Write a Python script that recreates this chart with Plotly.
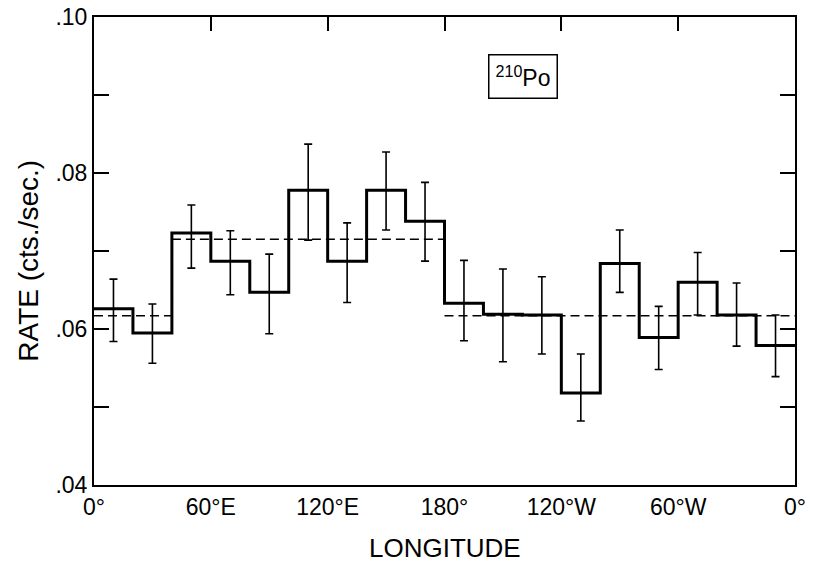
import plotly.graph_objects as go

# ---- data ----
bin_start = [0, 20, 40, 60, 80, 100, 120, 140, 160, 180, 200, 220, 240, 260, 280, 300, 320, 340]
bin_end = [20, 40, 60, 80, 100, 120, 140, 160, 180, 200, 220, 240, 260, 280, 300, 320, 340, 360]
rate = [0.0626, 0.0595, 0.0723, 0.0687, 0.0647, 0.0778, 0.0687, 0.0778, 0.0738,
        0.0633, 0.0619, 0.0618, 0.0518, 0.0684, 0.0589, 0.0660, 0.0618, 0.0579]
err_top = [0.0664, 0.0632, 0.0759, 0.0726, 0.0696, 0.0837, 0.0736, 0.0827, 0.0788,
           0.0688, 0.0677, 0.0667, 0.0568, 0.0727, 0.0629, 0.0698, 0.0659, 0.0618]
err_bottom = [0.0584, 0.0556, 0.0678, 0.0644, 0.0594, 0.0714, 0.0634, 0.0727, 0.0687,
              0.0585, 0.0558, 0.0568, 0.0482, 0.0647, 0.0548, 0.0618, 0.0578, 0.0539]

mean_start = [0, 40, 180]
mean_end = [40, 180, 360]
mean_value = [0.0617, 0.0715, 0.0617]

x_tick_vals = [0, 60, 120, 180, 240, 300, 360]
x_tick_text = ["0°", "60°E", "120°E", "180°", "120°W", "60°W", "0°"]
top_tick_vals = [60, 120, 180, 240, 300]
y_tick_vals = [0.04, 0.06, 0.08, 0.10]
y_tick_text = [".04", ".06", ".08", ".10"]
y_minor_vals = [0.05, 0.07, 0.09]

FONT = "Liberation Sans, Arial, sans-serif"

fig = go.Figure()

# step histogram
step_x = bin_start + [bin_end[-1]]
step_y = rate + [rate[-1]]
fig.add_trace(go.Scatter(x=step_x, y=step_y, mode="lines", line_shape="hv",
                         line=dict(color="black", width=3), hoverinfo="skip",
                         showlegend=False))

# error bars at bin centres
centres = [(a + b) / 2 for a, b in zip(bin_start, bin_end)]
fig.add_trace(go.Scatter(
    x=centres, y=rate, mode="markers", marker=dict(size=0.1, color="black", opacity=0),
    error_y=dict(type="data", symmetric=False,
                 array=[t - r for t, r in zip(err_top, rate)],
                 arrayminus=[r - b for r, b in zip(rate, err_bottom)],
                 color="black", thickness=1.6, width=4),
    showlegend=False, hoverinfo="skip"))

# dashed mean levels
for s, e, v in zip(mean_start, mean_end, mean_value):
    fig.add_trace(go.Scatter(x=[s, e], y=[v, v], mode="lines",
                             line=dict(color="black", width=1.5, dash="9px,5px"),
                             showlegend=False, hoverinfo="skip"))

# dummy trace for the top axis
fig.add_trace(go.Scatter(x=[0], y=[0.07], xaxis="x2", mode="markers",
                         marker=dict(opacity=0), showlegend=False, hoverinfo="skip"))

fig.add_annotation(x=220.5, y=0.0924, xref="x", yref="y",
                   text="<sup>210</sup>Po", showarrow=False,
                   font=dict(family=FONT, size=23, color="black"),
                   bordercolor="black", borderwidth=1.5, borderpad=6, bgcolor="white")

# axis titles as annotations for exact placement
fig.add_annotation(x=-0.093, y=0.479, xref="paper", yref="paper",
                   text="RATE (cts./sec.)", textangle=-90, showarrow=False,
                   font=dict(family=FONT, size=28, color="black"),
                   xanchor="center", yanchor="middle")
fig.add_annotation(x=0.5007, y=-0.135, xref="paper", yref="paper",
                   text="LONGITUDE", showarrow=False,
                   font=dict(family=FONT, size=26, color="black"),
                   xanchor="center", yanchor="middle")

# the page body adds an 8px offset, so the figure is sized to fit the window
fig.update_layout(
    width=809, height=557,
    margin=dict(l=86, r=22, t=9, b=80, autoexpand=False),
    paper_bgcolor="white", plot_bgcolor="white",
    font=dict(family=FONT, color="black"),
    xaxis=dict(range=[0, 360], tickvals=x_tick_vals, ticktext=x_tick_text,
               ticks="", showline=True, linecolor="black", linewidth=2, mirror=True,
               showgrid=False, zeroline=False, automargin=False,
               ticklabeloverflow="allow",
               tickfont=dict(family=FONT, size=23, color="black")),
    xaxis2=dict(range=[0, 360], overlaying="x", side="top", tickvals=top_tick_vals,
                ticks="inside", ticklen=14, tickwidth=1.5, tickcolor="black",
                showticklabels=False, showline=False, showgrid=False, zeroline=False,
                automargin=False),
    yaxis=dict(range=[0.04, 0.10], tickvals=y_tick_vals, ticktext=y_tick_text,
               ticks="inside", ticklen=15, tickwidth=1.5, tickcolor="black",
               minor=dict(tickvals=y_minor_vals, ticks="inside", ticklen=15,
                          tickwidth=1.5, tickcolor="black", showgrid=False),
               showline=True, linecolor="black", linewidth=2, mirror="ticks",
               showgrid=False, zeroline=False, automargin=False,
               ticklabeloverflow="allow",
               tickfont=dict(family=FONT, size=23, color="black")),
)

fig.write_html("out.html")
